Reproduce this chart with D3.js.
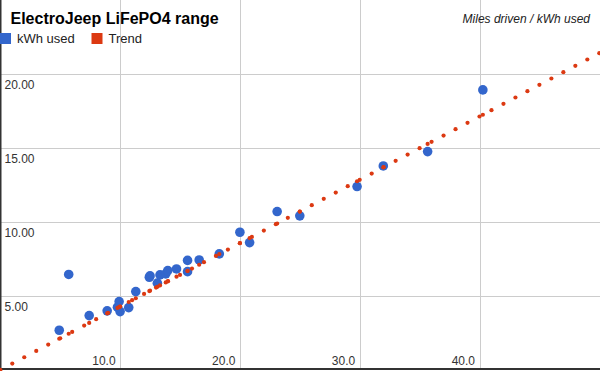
<!DOCTYPE html>
<html>
	<head>
		<meta charset="utf-8">
		<title>ElectroJeep LiFePO4 range</title>
		<style>
			body { margin: 0; background: #fff; }
			svg { display: block; font-family: "Liberation Sans", Arial, sans-serif; }
		</style>
	</head>
	<body>
		<div id="chart"></div>
		<script src="https://d3js.org/d3.v7.min.js"></script>
		<script>
			// data
			let milesDriven = [4.92, 5.71, 7.42, 8.92, 9.78, 9.92, 10.0, 10.72, 11.31, 12.44, 12.5, 13.11, 13.33, 13.81,
				13.98, 14.71, 15.63, 15.63, 16.6, 18.28, 20.0, 20.81, 23.11, 25.0, 29.78, 31.97, 35.67, 40.28];
			let kwhUsed = [2.68, 6.45, 3.67, 3.99, 4.24, 4.62, 3.94, 4.21, 5.29, 6.26, 6.35, 5.86, 6.42, 6.49,
				6.71, 6.82, 7.40, 6.64, 7.43, 7.84, 9.30, 8.60, 10.70, 10.41, 12.39, 13.78, 14.75, 18.92];

			// linear trend as drawn in the reference
			let trendSlope = 0.428;
			let trendIntercept = 0.0;

			let xTicks = [10, 20, 30, 40];
			let yTicks = [5, 10, 15, 20];
			let xTickLabels = ['10.0', '20.0', '30.0', '40.0'];
			let yTickLabels = ['5.00', '10.00', '15.00', '20.00'];
			let seriesNames = ['kWh used', 'Trend'];
			let seriesColors = ['#3366cc', '#dc3912'];

			let W = 600, H = 371;

			function translateHelper(x, y) {
				return 'translate(' + x + ', ' + y + ')';
			}

			let svg = d3.select('#chart').append('svg')
				.attr('width', W).attr('height', H);

			let x = d3.scaleLinear().domain([0, 50]).range([0.3, 599.3]);
			let y = d3.scaleLinear().domain([0, 25]).range([369.9, -0.1]);

			// gridlines
			svg.selectAll('.vgrid').data(xTicks).enter().append('line')
				.attr('x1', d => Math.round(x(d)) + 0.5).attr('x2', d => Math.round(x(d)) + 0.5)
				.attr('y1', 0).attr('y2', 369)
				.attr('stroke', '#cccccc').attr('stroke-width', 1);
			svg.selectAll('.hgrid').data(yTicks).enter().append('line')
				.attr('x1', 0).attr('x2', W)
				.attr('y1', d => Math.round(y(d)) + 0.5).attr('y2', d => Math.round(y(d)) + 0.5)
				.attr('stroke', '#cccccc').attr('stroke-width', 1);

			// axis lines
			svg.append('line').attr('x1', 0.75).attr('x2', 0.75).attr('y1', 0).attr('y2', 370)
				.attr('stroke', '#333333').attr('stroke-width', 1.5);
			svg.append('line').attr('x1', 0).attr('x2', W).attr('y1', 369).attr('y2', 369)
				.attr('stroke', '#333333').attr('stroke-width', 2);

			// tick labels
			svg.selectAll('.xlab').data(xTicks).enter().append('text')
				.attr('x', d => x(d) - 4.5).attr('y', 364.5)
				.attr('text-anchor', 'end').attr('font-size', 12).attr('fill', '#333333')
				.text((d, i) => xTickLabels[i]);
			svg.selectAll('.ylab').data(yTicks).enter().append('text')
				.attr('x', 4.5).attr('y', d => y(d) + 14.6)
				.attr('font-size', 12).attr('fill', '#333333')
				.text((d, i) => yTickLabels[i]);

			// kWh used points
			let points = milesDriven.map((m, i) => ({x: m, y: kwhUsed[i]}));
			svg.append('g').selectAll('circle').data(points).enter().append('circle')
				.attr('cx', d => x(d.x)).attr('cy', d => y(d.y))
				.attr('r', 4.8)
				.attr('fill', seriesColors[0]);

			// trend points: sampled along the axis and at each data x
			let trendX = d3.range(0, 51).concat(milesDriven);
			svg.append('g').selectAll('circle').data(trendX).enter().append('circle')
				.attr('cx', d => x(d)).attr('cy', d => y(trendSlope * d + trendIntercept))
				.attr('r', 2.1)
				.attr('fill', seriesColors[1]);

			// title
			svg.append('text').attr('x', 10.5).attr('y', 24)
				.attr('font-size', 16).attr('font-weight', 'bold').attr('fill', '#000000')
				.text('ElectroJeep LiFePO4 range');

			svg.append('text').attr('x', 590).attr('y', 23)
				.attr('text-anchor', 'end').attr('font-size', 12).attr('font-style', 'italic')
				.attr('fill', '#222222')
				.text('Miles driven / kWh used');

			// legend
			let legendX = [0, 91.5];
			let legend = svg.selectAll('.legend').data(seriesNames).enter().append('g')
				.attr('transform', (d, i) => translateHelper(legendX[i], 33));
			legend.append('rect').attr('width', 11).attr('height', 11)
				.attr('fill', (d, i) => seriesColors[i]);
			legend.append('text').attr('x', 17).attr('y', 10)
				.attr('font-size', 13).attr('fill', '#222222')
				.text(d => d);
		</script>
	</body>
</html>
